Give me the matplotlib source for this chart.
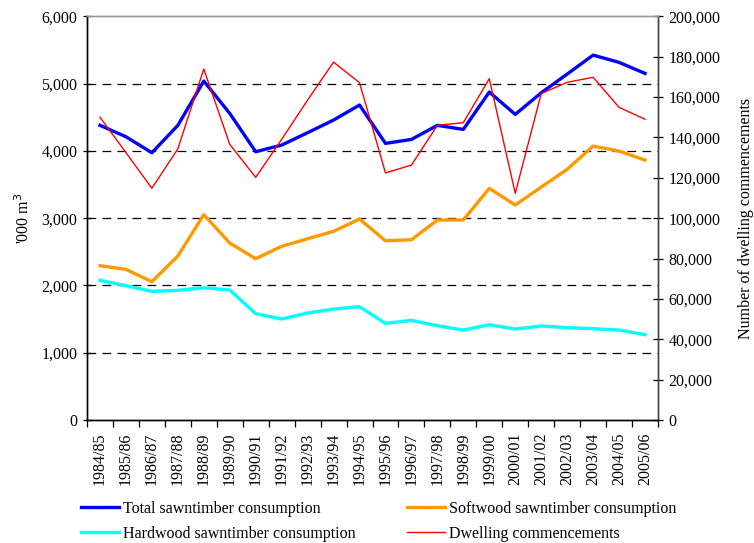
import matplotlib
matplotlib.use("Agg")
import matplotlib.pyplot as plt
import numpy as np
from matplotlib.ticker import FuncFormatter, FixedLocator
from matplotlib.lines import Line2D

plt.rcParams['font.family'] = ['Liberation Serif', 'DejaVu Serif']

years = ["1984/85", "1985/86", "1986/87", "1987/88", "1988/89", "1989/90", "1990/91",
         "1991/92", "1992/93", "1993/94", "1994/95", "1995/96", "1996/97", "1997/98",
         "1998/99", "1999/00", "2000/01", "2001/02", "2002/03", "2003/04", "2004/05", "2005/06"]
total = [4380, 4210, 3972, 4379, 5037, 4557, 3987, 4086, 4270, 4458, 4681, 4111, 4170,
         4379, 4319, 4874, 4542, 4863, 5141, 5423, 5315, 5151]
softwood = [2293, 2239, 2055, 2437, 3051, 2630, 2397, 2581, 2694, 2804, 2987, 2664, 2679,
            2972, 2972, 3443, 3195, 3462, 3725, 4071, 3997, 3863]
hardwood = [2076, 1996, 1912, 1927, 1966, 1932, 1580, 1501, 1590, 1649, 1684, 1436, 1481,
            1401, 1337, 1416, 1352, 1397, 1372, 1357, 1337, 1268]
dwelling = [150000, 132500, 114800, 134300, 173900, 136600, 120200, 139000, 158500, 177300,
            167100, 122400, 126300, 146000, 147300, 169100, 112300, 161700, 167300, 169800,
            154900, 149000]

FS = 11.5
fig = plt.figure(figsize=(7.54, 5.43), dpi=100)
ax = fig.add_axes([87/754, 1-420/543, (658-87)/754, (420-16.3)/543])
ax2 = ax.twinx()

x = np.arange(len(years))
ax.plot(x, total, color='#0000FF', lw=2.4, zorder=3)
ax.plot(x, softwood, color='#FF9900', lw=2.4, zorder=3)
ax.plot(x, hardwood, color='#00FFFF', lw=2.4, zorder=3)
ax2.plot(x, dwelling, color='#FF0000', lw=1.0)

ax.set_xlim(-0.5, len(years) - 0.5)
ax.set_ylim(0, 6000)
ax2.set_ylim(0, 200000)

fmt = FuncFormatter(lambda v, p: f"{int(v):,}")
ax.set_yticks(np.arange(0, 6001, 1000))
ax.yaxis.set_major_formatter(fmt)
ax2.set_yticks(np.arange(0, 200001, 20000))
ax2.yaxis.set_major_formatter(fmt)

for yv in range(1000, 6000, 1000):
    ax.axhline(yv, color='black', lw=0.9, ls=(0, (7, 5)), zorder=1)

ax.set_xticks(x)
ax.set_xticklabels(years, rotation=90, fontsize=FS)
ax.tick_params(axis='x', which='major', length=0, pad=9)
ax.xaxis.set_minor_locator(FixedLocator(np.arange(-0.5, len(years) + 0.5, 1)))
ax.tick_params(axis='x', which='minor', length=5, direction='out', width=0.9)
ax.tick_params(axis='y', labelsize=FS, length=6, direction='inout', width=0.9, pad=4)
ax2.tick_params(axis='y', labelsize=FS, length=7, direction='inout', width=0.9, pad=4)

for a in (ax, ax2):
    a.spines['top'].set_color('#999999')
    a.spines['left'].set_color('black')
    a.spines['bottom'].set_color('black')
    a.spines['right'].set_color('#444444')
    for s in a.spines.values():
        s.set_linewidth(1.0)

ax.set_ylabel("'000 m$^3$", fontsize=FS, labelpad=6)
ax2.set_ylabel("Number of dwelling commencements", fontsize=FS, labelpad=13)

col1_h = [Line2D([], [], color='#0000FF', lw=2.4), Line2D([], [], color='#00FFFF', lw=2.4)]
col1_l = ["Total sawntimber consumption", "Hardwood sawntimber consumption"]
col2_h = [Line2D([], [], color='#FF9900', lw=2.4), Line2D([], [], color='#FF0000', lw=1.0)]
col2_l = ["Softwood sawntimber consumption", "Dwelling commencements"]
common = dict(frameon=False, fontsize=FS, loc='upper left', handlelength=2.35,
              handletextpad=0.3, labelspacing=0.55, borderpad=0, borderaxespad=0)
fig.legend(col1_h, col1_l, bbox_to_anchor=(81/754, 1-501/543), **common)
fig.legend(col2_h, col2_l, bbox_to_anchor=(407/754, 1-501/543), **common)

fig.savefig("out.png", dpi=100)
